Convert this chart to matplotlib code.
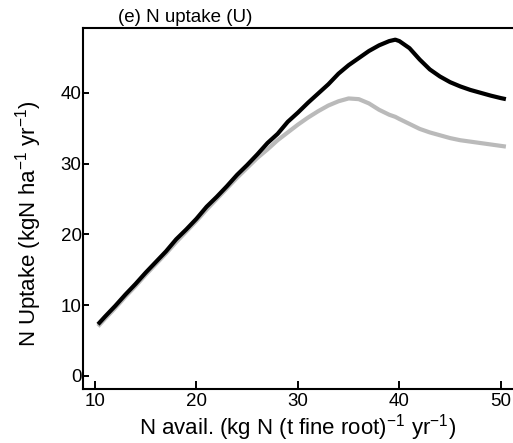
import matplotlib
matplotlib.use('Agg')
import matplotlib.pyplot as plt

# Data
n_avail = [10.3, 11, 12, 13, 14, 15, 16, 17, 18, 19, 20, 21, 22, 23, 24, 25, 26, 27,
           28, 29, 30, 31, 32, 33, 34, 35, 36, 37, 38, 39, 39.6, 40, 41, 42, 43, 44,
           45, 46, 47, 48, 49, 50, 50.5]
uptake_black = [7.3, 8.4, 9.9, 11.5, 13.0, 14.6, 16.1, 17.6, 19.3, 20.7, 22.2, 23.9,
                25.3, 26.8, 28.4, 29.8, 31.3, 32.9, 34.2, 35.9, 37.2, 38.6, 39.9, 41.2,
                42.7, 43.9, 44.9, 45.9, 46.7, 47.3, 47.5, 47.3, 46.3, 44.7, 43.3, 42.3,
                41.5, 40.9, 40.4, 40.0, 39.6, 39.25, 39.1]
uptake_grey = [7.0, 8.1, 9.6, 11.2, 12.7, 14.3, 15.8, 17.3, 18.9, 20.4, 21.9, 23.5,
               25.0, 26.5, 28.0, 29.4, 30.8, 32.0, 33.3, 34.4, 35.5, 36.5, 37.4, 38.2,
               38.8, 39.2, 39.1, 38.5, 37.6, 36.9, 36.6, 36.3, 35.6, 34.9, 34.4, 34.0,
               33.6, 33.3, 33.1, 32.9, 32.7, 32.5, 32.4]
x_ticks = [10, 20, 30, 40, 50]
y_ticks = [0, 10, 20, 30, 40]

plt.rcParams['font.family'] = ['Liberation Sans', 'DejaVu Sans']
plt.rcParams['mathtext.default'] = 'regular'

fig = plt.figure(figsize=(5.13, 4.43), dpi=100)
ax = fig.add_axes([0.1618, 0.1219, 0.8382, 0.8149])

ax.plot(n_avail, uptake_grey, color='#bababa', linewidth=3.0, solid_capstyle='butt')
ax.plot(n_avail, uptake_black, color='black', linewidth=3.0, solid_capstyle='butt')

ax.set_xlim(8.82, 51.2)
ax.set_ylim(-1.84, 49.15)
ax.set_xticks(x_ticks)
ax.set_yticks(y_ticks)

ax.spines['right'].set_visible(False)
for s in ['left', 'bottom', 'top']:
    ax.spines[s].set_linewidth(1.5)
ax.tick_params(axis='x', direction='in', length=5.8, width=1.4, pad=3,
               labelsize=13.5, top=False)
ax.tick_params(axis='y', direction='in', length=4.3, width=1.4, pad=1,
               labelsize=13.5, right=False)

ax.set_xlabel('N avail. (kg N (t fine root)$^{-1}$ yr$^{-1}$)', fontsize=16, va='baseline')
ax.xaxis.set_label_coords(0.5, -0.127)
ax.set_ylabel('N Uptake (kgN ha$^{-1}$ yr$^{-1}$)', fontsize=16)
ax.yaxis.set_label_coords(-0.09, 0.457)
ax.text(0.081, 1.005, '(e) N uptake (U)', transform=ax.transAxes,
        fontsize=13.5, ha='left', va='bottom')

fig.savefig('out.png', dpi=100)
